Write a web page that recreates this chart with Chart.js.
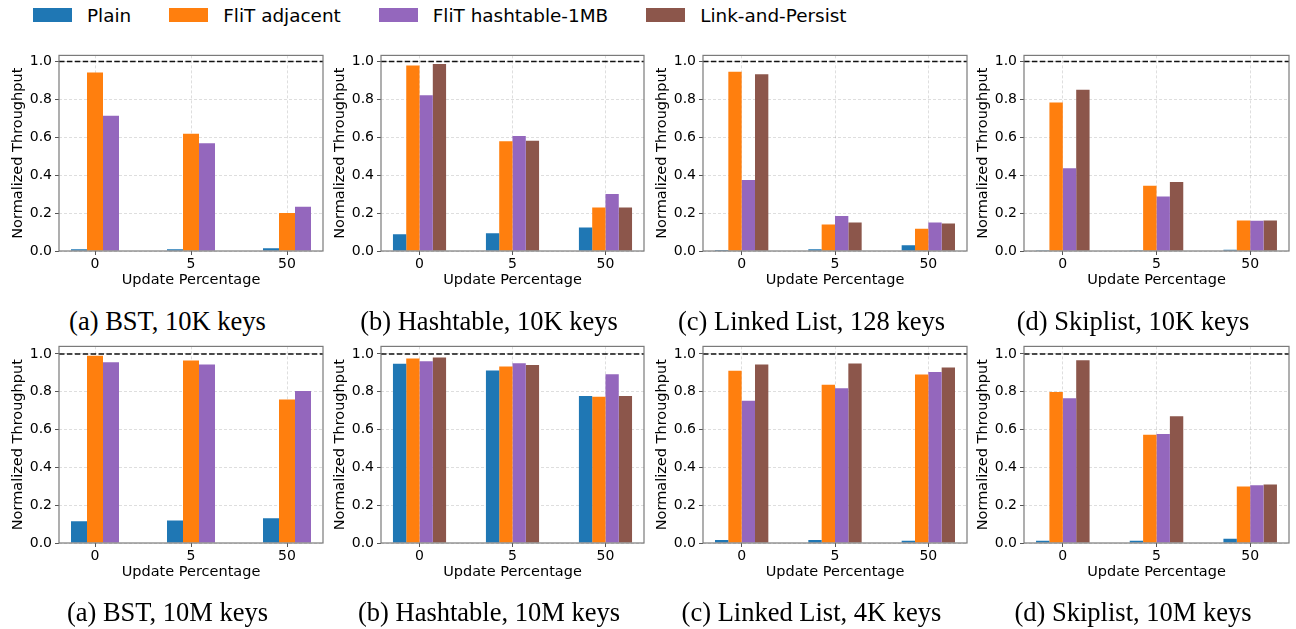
<!DOCTYPE html>
<html>
<head>
<meta charset="utf-8">
<script src="https://cdn.jsdelivr.net/npm/chart.js@4/dist/chart.umd.min.js"></script>
<style>
  body { margin: 0; background: #fff; width: 1296px; height: 629px; position: relative; overflow: hidden; font-family: "DejaVu Sans"; }
  .box { position: absolute; }
  #legend { position: absolute; left: 33px; top: 0; height: 30px; display: flex; align-items: center; font-size: 18.4px; color: #000; }
  .item { display: flex; align-items: center; margin-right: 38px; }
  .patch { width: 39px; height: 14px; margin-right: 15px; }
  .cap { position: absolute; font-family: "Liberation Serif"; font-size: 26.5px; line-height: 1; white-space: nowrap; transform: translateX(-50%); color: #000; }
</style>
</head>
<body>
<div id="legend"></div>
<script>
// normalized throughput, 8 panels
const updateLabels = ['0', '5', '50'];
const seriesNames = ['Plain', 'FliT adjacent', 'FliT hashtable-1MB', 'Link-and-Persist'];
const seriesColors = ['#1f77b4', '#ff7f0e', '#9467bd', '#8c564b'];
const yTicks = [0, 0.2, 0.4, 0.6, 0.8, 1.0];

// top row
const bst10kPlain = [0.009, 0.009, 0.014];
const bst10kAdjacent = [0.942, 0.619, 0.201];
const bst10kHashtable = [0.713, 0.568, 0.234];

const hash10kPlain = [0.089, 0.093, 0.124];
const hash10kAdjacent = [0.979, 0.579, 0.229];
const hash10kHashtable = [0.822, 0.607, 0.301];
const hash10kLinkPersist = [0.986, 0.582, 0.229];

const list128Plain = [0.005, 0.009, 0.030];
const list128Adjacent = [0.946, 0.140, 0.117];
const list128Hashtable = [0.374, 0.185, 0.150];
const list128LinkPersist = [0.932, 0.150, 0.145];

const skip10kPlain = [0.004, 0.004, 0.007];
const skip10kAdjacent = [0.783, 0.344, 0.161];
const skip10kHashtable = [0.437, 0.288, 0.159];
const skip10kLinkPersist = [0.851, 0.364, 0.161];

// bottom row
const bst10mPlain = [0.115, 0.119, 0.131];
const bst10mAdjacent = [0.991, 0.965, 0.759];
const bst10mHashtable = [0.956, 0.944, 0.804];

const hash10mPlain = [0.948, 0.913, 0.778];
const hash10mAdjacent = [0.976, 0.934, 0.773];
const hash10mHashtable = [0.962, 0.951, 0.893];
const hash10mLinkPersist = [0.981, 0.942, 0.778];

const list4kPlain = [0.016, 0.016, 0.012];
const list4kAdjacent = [0.911, 0.837, 0.892];
const list4kHashtable = [0.752, 0.818, 0.904];
const list4kLinkPersist = [0.944, 0.949, 0.928];

const skip10mPlain = [0.012, 0.012, 0.023];
const skip10mAdjacent = [0.799, 0.573, 0.299];
const skip10mHashtable = [0.766, 0.577, 0.306];
const skip10mLinkPersist = [0.967, 0.671, 0.309];

const panels = [
  { caption: '(a) BST, 10K keys', series: [bst10kPlain, bst10kAdjacent, bst10kHashtable, null] },
  { caption: '(b) Hashtable, 10K keys', series: [hash10kPlain, hash10kAdjacent, hash10kHashtable, hash10kLinkPersist] },
  { caption: '(c) Linked List, 128 keys', series: [list128Plain, list128Adjacent, list128Hashtable, list128LinkPersist] },
  { caption: '(d) Skiplist, 10K keys', series: [skip10kPlain, skip10kAdjacent, skip10kHashtable, skip10kLinkPersist] },
  { caption: '(a) BST, 10M keys', series: [bst10mPlain, bst10mAdjacent, bst10mHashtable, null] },
  { caption: '(b) Hashtable, 10M keys', series: [hash10mPlain, hash10mAdjacent, hash10mHashtable, hash10mLinkPersist] },
  { caption: '(c) Linked List, 4K keys', series: [list4kPlain, list4kAdjacent, list4kHashtable, list4kLinkPersist] },
  { caption: '(d) Skiplist, 10M keys', series: [skip10mPlain, skip10mAdjacent, skip10mHashtable, skip10mLinkPersist] }
];

// layout (plot area edges in page pixels)
const plotLefts = [59, 381, 703, 1024];
const plotRights = [323, 644, 967, 1289];
const rowTops = [54, 345];
const rowBottoms = [251, 543];
const rowYMax = [1.032, 1.04];
const captionTops = [308, 599];
const yAxisW = 59, xAxisH = 42, padTop = 10, padRight = 5;

Chart.defaults.font.family = 'DejaVu Sans';
Chart.defaults.color = '#000';

// legend
const legend = document.getElementById('legend');
seriesNames.forEach((name, i) => {
  const item = document.createElement('div');
  item.className = 'item';
  item.innerHTML = '<div class="patch" style="background:' + seriesColors[i] + '"></div><span>' + name + '</span>';
  legend.appendChild(item);
});

// spines + dashed reference line at 1.0
const framePlugin = {
  id: 'frame',
  afterDatasetsDraw(chart) {
    const { ctx, chartArea: a, scales: { y } } = chart;
    const py = y.getPixelForValue(1.0);
    ctx.save();
    ctx.strokeStyle = '#111';
    ctx.lineWidth = 1.5;
    ctx.setLineDash([5.5, 2.4]);
    ctx.beginPath();
    ctx.moveTo(a.left, py);
    ctx.lineTo(a.right, py);
    ctx.stroke();
    ctx.setLineDash([]);
    ctx.strokeStyle = '#7a7a7a';
    ctx.lineWidth = 1.2;
    ctx.strokeRect(a.left, a.top, a.right - a.left, a.bottom - a.top);
    ctx.restore();
  }
};

panels.forEach((p, k) => {
  const col = k % 4, row = Math.floor(k / 4);
  const left = plotLefts[col], right = plotRights[col];
  const top = rowTops[row], bottom = rowBottoms[row];

  const box = document.createElement('div');
  box.className = 'box';
  box.style.left = (left - yAxisW) + 'px';
  box.style.top = (top - padTop) + 'px';
  box.style.width = (yAxisW + right - left + padRight) + 'px';
  box.style.height = (padTop + bottom - top + xAxisH) + 'px';
  const canvas = document.createElement('canvas');
  box.appendChild(canvas);
  document.body.appendChild(box);

  const cap = document.createElement('div');
  cap.className = 'cap';
  cap.textContent = p.caption;
  cap.style.left = ((left + right) / 2 - 23.5) + 'px';
  cap.style.top = captionTops[row] + 'px';
  document.body.appendChild(cap);

  // matplotlib-style bar width 1/(n+3), 5% x margins
  const n = p.series.filter(s => s).length;
  const w = 1 / (n + 3);
  const half = n * w / 2;
  const margin = (updateLabels.length - 1 + 2 * half) * 0.05;

  const datasets = [];
  p.series.forEach((s, i) => {
    if (!s) return;
    datasets.push({
      label: seriesNames[i],
      data: s.map((v, j) => ({ x: j, y: v })),
      backgroundColor: seriesColors[i],
      borderWidth: 0,
      categoryPercentage: n * w,
      barPercentage: 1
    });
  });

  new Chart(canvas, {
    type: 'bar',
    data: { datasets },
    options: {
      responsive: true,
      maintainAspectRatio: false,
      animation: false,
      layout: { padding: { top: padTop, right: padRight, bottom: 0, left: 0 } },
      plugins: { legend: { display: false }, tooltip: { enabled: false } },
      scales: {
        x: {
          type: 'linear',
          min: -half - margin,
          max: updateLabels.length - 1 + half + margin,
          offset: false,
          grid: { offset: false, color: 'rgba(0,0,0,0.13)', tickColor: '#555', tickLength: 4, tickBorderDash: [] },
          border: { display: false, dash: [3, 2] },
          afterBuildTicks: s => { s.ticks = updateLabels.map((_, i) => ({ value: i })); },
          afterFit: s => { s.height = xAxisH; },
          ticks: { callback: v => updateLabels[v], padding: 1, font: { size: 14 }, maxRotation: 0, autoSkip: false },
          title: { display: true, text: 'Update Percentage', font: { size: 14.5 }, padding: { top: 0, bottom: 4 } }
        },
        y: {
          min: 0,
          max: rowYMax[row],
          grid: { color: 'rgba(0,0,0,0.13)', tickColor: '#555', tickLength: 4, tickBorderDash: [] },
          border: { display: false, dash: [3, 2] },
          afterBuildTicks: s => { s.ticks = yTicks.map(v => ({ value: v })); },
          afterFit: s => { s.width = yAxisW; },
          ticks: { callback: v => v.toFixed(1), padding: 3, font: { size: 14 } },
          title: { display: true, text: 'Normalized Throughput', font: { size: 14.5 }, padding: { top: 10, bottom: 0 } }
        }
      }
    },
    plugins: [framePlugin]
  });
});
</script>
</body>
</html>
